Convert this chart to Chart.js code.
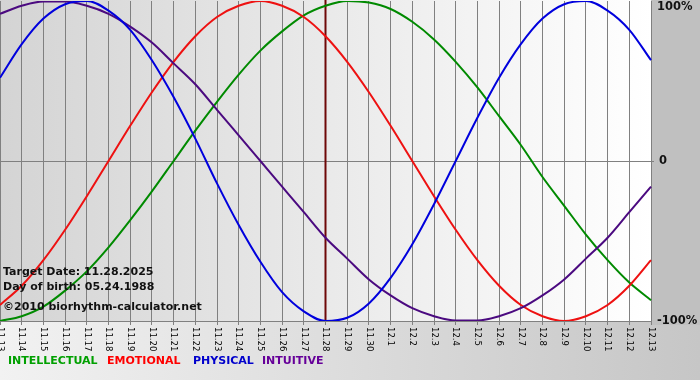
<!DOCTYPE html>
<html>
<head>
<meta charset="utf-8">
<script src="https://cdn.jsdelivr.net/npm/chart.js@4"></script>
<style>
  html, body { margin: 0; padding: 0; background: #fff; }
  canvas { display: block; }
</style>
</head>
<body>
<canvas id="bio" width="700" height="380"></canvas>
<script>
// days on the x axis (month.day)
const days = [
  '11.13', '11.14', '11.15', '11.16', '11.17', '11.18', '11.19', '11.20', '11.21', '11.22',
  '11.23', '11.24', '11.25', '11.26', '11.27', '11.28', '11.29', '11.30', '12.1', '12.2',
  '12.3', '12.4', '12.5', '12.6', '12.7', '12.8', '12.9', '12.10', '12.11', '12.12', '12.13',
];

// cycle values, -1 .. 1 (one per day)
const intellectual = [
  -1.00, -0.97, -0.91, -0.81, -0.69, -0.54, -0.37, -0.19, 0.00, 0.19,
  0.37, 0.54, 0.69, 0.81, 0.91, 0.97, 1.00, 0.99, 0.95, 0.87,
  0.76, 0.62, 0.46, 0.28, 0.10, -0.10, -0.28, -0.46, -0.62, -0.76, -0.87,
];
const emotional = [
  -0.90, -0.78, -0.62, -0.43, -0.22, 0.00, 0.22, 0.43, 0.62, 0.78,
  0.90, 0.97, 1.00, 0.97, 0.90, 0.78, 0.62, 0.43, 0.22, 0.00,
  -0.22, -0.43, -0.62, -0.78, -0.90, -0.97, -1.00, -0.97, -0.90, -0.78, -0.62,
];
const physical = [
  0.52, 0.73, 0.89, 0.98, 1.00, 0.94, 0.82, 0.63, 0.40, 0.14,
  -0.14, -0.40, -0.63, -0.82, -0.94, -1.00, -0.98, -0.89, -0.73, -0.52,
  -0.27, 0.00, 0.27, 0.52, 0.73, 0.89, 0.98, 1.00, 0.94, 0.82, 0.63,
];
const intuitive = [
  0.92, 0.97, 0.997, 0.997, 0.97, 0.92, 0.84, 0.74, 0.61, 0.48,
  0.32, 0.16, 0.00, -0.16, -0.32, -0.48, -0.61, -0.74, -0.84, -0.92,
  -0.97, -0.997, -0.997, -0.97, -0.92, -0.84, -0.74, -0.61, -0.48, -0.32, -0.16,
];

const yTicks = [-1, 0, 1];
const yTickLabels = ['-100%', '0', '100%'];
const targetDay = '11.28';
const infoLines = ['Target Date: 11.28.2025', 'Day of birth: 05.24.1988', '\u00a92010 biorhythm-calculator.net'];
const legendNames = ['INTELLECTUAL', 'EMOTIONAL', 'PHYSICAL', 'INTUITIVE'];

const COLORS = {
  intellectual: '#008a00',
  emotional: '#ee1111',
  physical: '#0000dd',
  intuitive: '#4b0a80',
};
const legendColors = ['#00a000', '#ff0000', '#0000cc', '#660099'];
const FONT = '"DejaVu Sans", Verdana, sans-serif';

const line = (data, color) => ({
  data,
  borderColor: color,
  borderWidth: 2,
  pointRadius: 0,
  cubicInterpolationMode: 'monotone',
  fill: false,
});

// backgrounds: bottom strip, right panel, plot gradient
const backdrop = {
  id: 'backdrop',
  beforeDraw(chart) {
    const { ctx, chartArea: a, width, height } = chart;
    ctx.save();
    const strip = ctx.createLinearGradient(0, 0, width, 0);
    strip.addColorStop(0, '#f2f2f2');
    strip.addColorStop(1, '#c6c6c6');
    ctx.fillStyle = strip;
    ctx.fillRect(0, 0, width, height);
    ctx.fillStyle = '#c0c0c0';
    ctx.fillRect(a.right, 0, width - a.right, a.bottom + 4);
    const plot = ctx.createLinearGradient(a.left, 0, a.right, 0);
    plot.addColorStop(0, '#d4d4d4');
    plot.addColorStop(1, '#ffffff');
    ctx.fillStyle = plot;
    ctx.fillRect(a.left, a.top - 1, a.right - a.left, a.bottom - a.top + 1);
    ctx.restore();
  },
};

// today marker
const targetLine = {
  id: 'targetLine',
  beforeDatasetsDraw(chart) {
    const { ctx, chartArea: a, scales: { x } } = chart;
    const px = x.getPixelForValue(days.indexOf(targetDay));
    ctx.save();
    ctx.strokeStyle = '#6e0808';
    ctx.lineWidth = 2;
    ctx.beginPath();
    ctx.moveTo(px, a.top - 1);
    ctx.lineTo(px, a.bottom);
    ctx.stroke();
    ctx.restore();
  },
};

// labels: rotated dates, % axis, info text, legend
const texts = {
  id: 'texts',
  afterDraw(chart) {
    const { ctx, chartArea: a, scales: { x, y } } = chart;
    ctx.save();

    ctx.fillStyle = '#000';
    ctx.font = '8.5px ' + FONT;
    ctx.textAlign = 'left';
    ctx.textBaseline = 'middle';
    days.forEach((d, i) => {
      ctx.save();
      ctx.translate(x.getPixelForValue(i), a.bottom + 6);
      ctx.rotate(Math.PI / 2);
      ctx.fillText(d, 0, 0);
      ctx.restore();
    });

    ctx.fillStyle = '#111';
    ctx.font = 'bold 11.5px ' + FONT;
    yTicks.forEach((v, i) => {
      const py = Math.max(y.getPixelForValue(v), a.top + 6);
      const lbl = yTickLabels[i];
      ctx.fillText(lbl, a.right + (lbl === '0' ? 8 : 6), py);
    });

    ctx.font = 'bold 11px ' + FONT;
    ctx.fillStyle = '#111';
    ctx.fillText(infoLines[0], 3, 272);
    ctx.fillText(infoLines[1], 3, 287);
    ctx.fillText(infoLines[2], 3, 307);

    const legendX = [8, 107, 193, 262];
    legendNames.forEach((name, i) => {
      ctx.fillStyle = legendColors[i];
      ctx.fillText(name, legendX[i], 361);
    });
    ctx.restore();
  },
};

new Chart(document.getElementById('bio'), {
  type: 'line',
  data: {
    labels: days,
    datasets: [
      line(physical, COLORS.physical),
      line(intuitive, COLORS.intuitive),
      line(emotional, COLORS.emotional),
      line(intellectual, COLORS.intellectual),
    ],
  },
  options: {
    responsive: false,
    devicePixelRatio: 1,
    animation: false,
    events: [],
    layout: { padding: { top: 1, left: 0, right: 0, bottom: 0 } },
    plugins: { legend: { display: false }, tooltip: { enabled: false } },
    scales: {
      x: {
        grid: { color: '#808080', lineWidth: 1, drawTicks: true, tickLength: 4 },
        border: { color: '#808080' },
        ticks: { display: false, autoSkip: false },
        afterFit(scale) { scale.height = 59; },
      },
      y: {
        position: 'right',
        min: -1,
        max: 1,
        afterBuildTicks(scale) { scale.ticks = yTicks.map((v) => ({ value: v })); },
        grid: {
          color: (c) => (c.tick && c.tick.value === 0 ? '#808080' : 'rgba(0,0,0,0)'),
          drawTicks: true,
          tickLength: 3,
        },
        border: { display: false },
        ticks: { display: false },
        afterFit(scale) { scale.width = 49; },
      },
    },
  },
  plugins: [backdrop, targetLine, texts],
});
</script>
</body>
</html>
